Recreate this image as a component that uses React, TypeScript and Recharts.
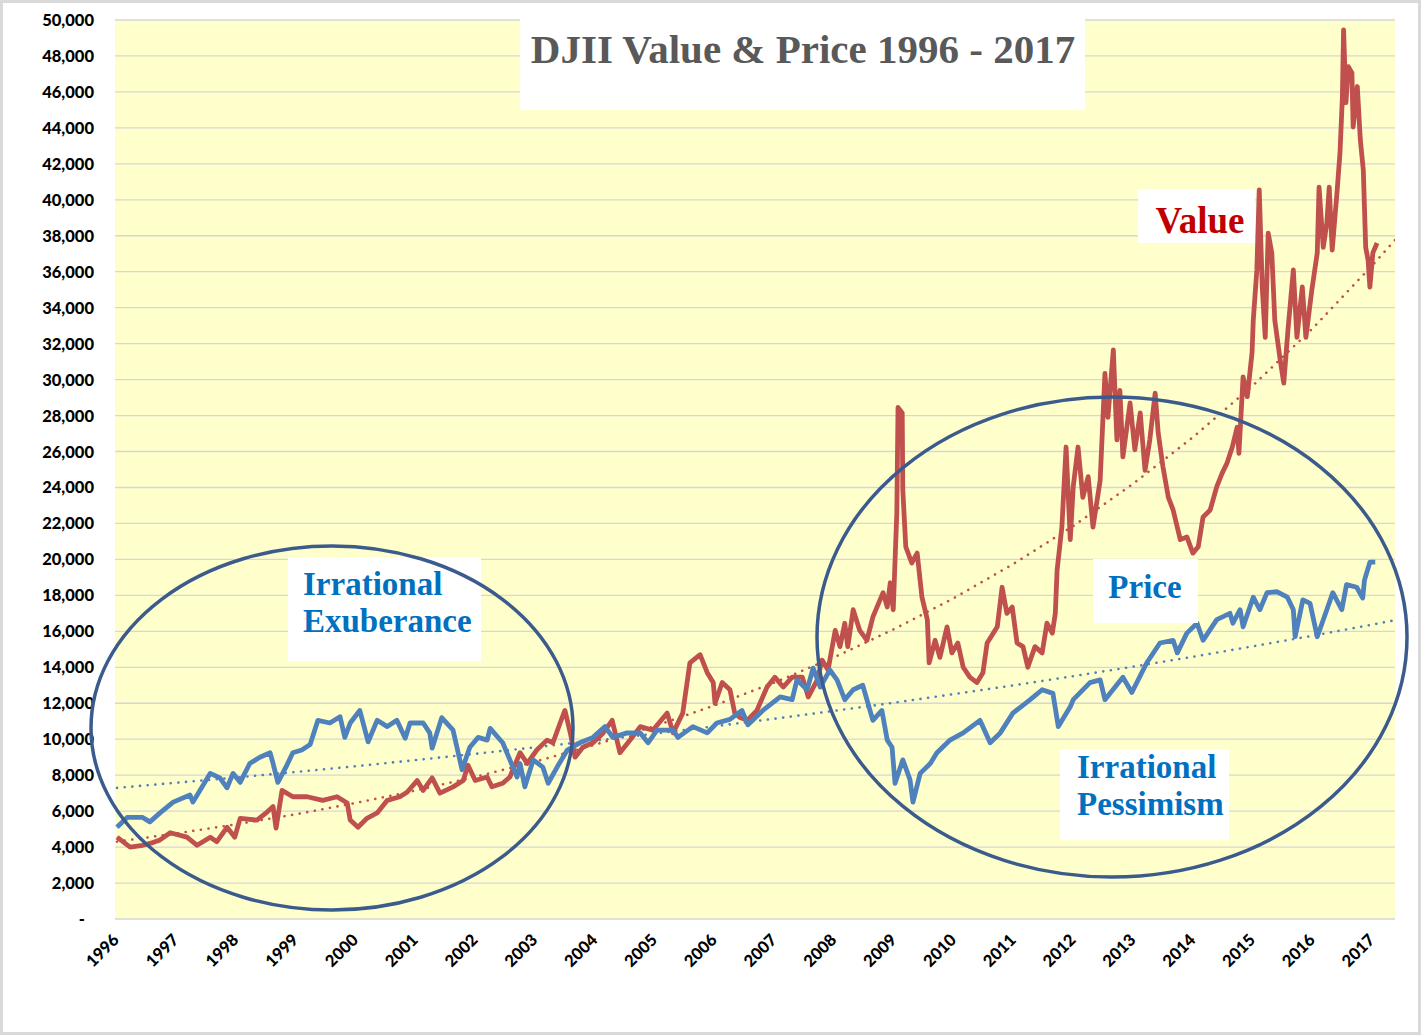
import React from "react";
import { LineChart, Line, XAxis, YAxis, CartesianGrid } from "recharts";

// ---- Data ----
const priceYears = [
  1996.0, 1996.17, 1996.43, 1996.55, 1996.72, 1996.94, 1997.22, 1997.27, 1997.56, 1997.72,
  1997.84, 1997.94, 1998.06, 1998.22, 1998.39, 1998.56, 1998.61, 1998.69, 1998.84, 1998.94,
  1999.09, 1999.23, 1999.36, 1999.56, 1999.73, 1999.81, 1999.9, 2000.06, 2000.2, 2000.35,
  2000.52, 2000.68, 2000.82, 2000.9, 2001.12, 2001.23, 2001.27, 2001.43, 2001.62, 2001.77,
  2001.9, 2002.04, 2002.19, 2002.24, 2002.45, 2002.57, 2002.69, 2002.74, 2002.82, 2002.96,
  2003.12, 2003.21, 2003.36, 2003.53, 2003.74, 2003.96, 2004.16, 2004.29, 2004.53, 2004.75,
  2004.88, 2005.03, 2005.3, 2005.38, 2005.63, 2005.87, 2006.03, 2006.25, 2006.45, 2006.55,
  2006.8, 2007.09, 2007.29, 2007.37, 2007.54, 2007.64, 2007.76, 2007.92, 2008.04, 2008.17,
  2008.31, 2008.47, 2008.64, 2008.79, 2008.88, 2008.96, 2009.01, 2009.14, 2009.26, 2009.31,
  2009.43, 2009.6, 2009.71, 2009.93, 2010.15, 2010.43, 2010.6, 2010.77, 2010.98, 2011.27,
  2011.47, 2011.65, 2011.74, 2011.94, 2011.99, 2012.27, 2012.44, 2012.52, 2012.82, 2012.97,
  2013.22, 2013.44, 2013.66, 2013.73, 2013.89, 2014.06, 2014.16, 2014.39, 2014.61, 2014.66,
  2014.78, 2014.83, 2015.0, 2015.11, 2015.23, 2015.4, 2015.57, 2015.67, 2015.7, 2015.83,
  2015.95, 2016.07, 2016.23, 2016.33, 2016.48, 2016.56, 2016.73, 2016.83, 2016.86, 2016.95,
  2017.04,
];
const priceValues = [
  5100, 5650, 5650, 5400, 5900, 6500, 6900, 6500, 8100, 7850,
  7300, 8100, 7600, 8650, 9000, 9250, 8650, 7600, 8550, 9250,
  9400, 9700, 11050, 10900, 11250, 10100, 10900, 11600, 9850, 11050,
  10700, 11050, 10050, 10900, 10900, 10350, 9500, 11200, 10500, 8300,
  9550, 10100, 9950, 10600, 9800, 8850, 7900, 8650, 7350, 8850,
  8450, 7550, 8450, 9400, 9800, 10100, 10700, 10100, 10350, 10350,
  9800, 10500, 10500, 10100, 10700, 10350, 10900, 11100, 11600, 10800,
  11600, 12350, 12200, 13300, 12750, 13950, 12900, 13850, 13300, 12200,
  12750, 13000, 11050, 11600, 9950, 9550, 7550, 8850, 7750, 6500,
  8100, 8650, 9250, 9950, 10350, 11050, 9800, 10350, 11450, 12200,
  12750, 12550, 10700, 11800, 12200, 13150, 13300, 12200, 13450, 12600,
  14250, 15350, 15500, 14800, 15900, 16450, 15500, 16650, 17000, 16450,
  17200, 16250, 17900, 17200, 18150, 18200, 17900, 17200, 15700, 17750,
  17550, 15700, 17200, 18150, 17200, 18600, 18450, 17850, 18850, 19850,
  19850,
];

const valueYears = [
  1996.0, 1996.22, 1996.43, 1996.6, 1996.72, 1996.89, 1997.17, 1997.34, 1997.56, 1997.67,
  1997.84, 1997.97, 1998.06, 1998.34, 1998.51, 1998.61, 1998.66, 1998.76, 1998.94, 1999.18,
  1999.44, 1999.68, 1999.85, 1999.9, 2000.03, 2000.18, 2000.35, 2000.52, 2000.73, 2000.85,
  2001.02, 2001.12, 2001.27, 2001.4, 2001.62, 2001.79, 2001.87, 2001.99, 2002.19, 2002.27,
  2002.45, 2002.57, 2002.74, 2002.86, 2003.02, 2003.19, 2003.29, 2003.41, 2003.49, 2003.58,
  2003.66, 2003.79, 2003.96, 2004.13, 2004.28, 2004.41, 2004.58, 2004.75, 2004.96, 2005.2,
  2005.3, 2005.46, 2005.58, 2005.75, 2005.87, 2005.97, 2006.0, 2006.12, 2006.25, 2006.33,
  2006.42, 2006.54, 2006.7, 2006.87, 2007.0, 2007.14, 2007.29, 2007.46, 2007.56, 2007.71,
  2007.79, 2007.89, 2008.01, 2008.09, 2008.17, 2008.22, 2008.31, 2008.42, 2008.54, 2008.64,
  2008.81, 2008.88, 2008.93, 2008.98, 2009.04, 2009.06, 2009.13, 2009.14, 2009.19, 2009.29,
  2009.38, 2009.46, 2009.55, 2009.58, 2009.68, 2009.76, 2009.88, 2009.96, 2010.06, 2010.15,
  2010.26, 2010.38, 2010.48, 2010.55, 2010.72, 2010.8, 2010.88, 2010.97, 2011.05, 2011.15,
  2011.23, 2011.35, 2011.47, 2011.55, 2011.64, 2011.69, 2011.72, 2011.8, 2011.87, 2011.94,
  2011.99, 2012.07, 2012.15, 2012.24, 2012.32, 2012.44, 2012.52, 2012.57, 2012.66, 2012.72,
  2012.77, 2012.82, 2012.94, 2013.02, 2013.11, 2013.19, 2013.27, 2013.36, 2013.41, 2013.49,
  2013.58, 2013.66, 2013.78, 2013.89, 2013.99, 2014.08, 2014.16, 2014.28, 2014.39, 2014.48,
  2014.56, 2014.65, 2014.73, 2014.76, 2014.83, 2014.9, 2014.98, 2015.0, 2015.06, 2015.1,
  2015.15, 2015.2, 2015.25, 2015.31, 2015.36, 2015.45, 2015.51, 2015.58, 2015.67, 2015.73,
  2015.82, 2015.88, 2015.98, 2016.07, 2016.1, 2016.17, 2016.23, 2016.27, 2016.32, 2016.4,
  2016.45, 2016.49, 2016.51, 2016.55, 2016.59, 2016.65, 2016.67, 2016.74, 2016.79, 2016.84,
  2016.88, 2016.92, 2016.95, 2017.0, 2017.07,
];
const valueValues = [
  4550, 4000, 4100, 4250, 4400, 4800, 4550, 4100, 4550, 4300,
  5100, 4550, 5600, 5500, 5950, 6250, 5050, 7150, 6800, 6800,
  6600, 6800, 6450, 5500, 5100, 5600, 5900, 6600, 6800, 7050,
  7700, 7150, 7850, 7000, 7350, 7700, 8550, 7700, 7900, 7350,
  7550, 7900, 9250, 8650, 9400, 9950, 9800, 10900, 11600, 10350,
  9000, 9550, 9800, 10350, 11050, 9250, 9950, 10700, 10500, 11450,
  10350, 11450, 14250, 14700, 13700, 13150, 12000, 13150, 12750, 11450,
  11200, 11050, 11600, 12900, 13450, 12900, 13450, 13450, 12350, 13300,
  14400, 13850, 16050, 15150, 16450, 15150, 17200, 16050, 15500, 16800,
  18150, 17350, 18700, 17200, 22600, 28450, 28150, 23850, 20700, 19800,
  20350, 17900, 16650, 14250, 15500, 14550, 16250, 14800, 15350, 14000,
  13450, 13150, 13700, 15350, 16250, 18450, 17000, 17350, 15350, 15150,
  14000, 15150, 14800, 16450, 15900, 17000, 19400, 21800, 26250, 21100,
  24050, 26250, 23450, 24600, 21800, 24400, 30350, 27900, 31650, 26650,
  29400, 25700, 28700, 26100, 28150, 24950, 26650, 29250, 27050, 25150,
  23450, 22750, 21100, 21250, 20350, 20700, 22350, 22750, 24050, 24800,
  25350, 26250, 27350, 25900, 30150, 29050, 31500, 33300, 36100, 40550,
  35150, 32350, 38150, 37050, 33300, 31100, 29800, 32750, 36100, 32350,
  35150, 32350, 35000, 37050, 40700, 37350, 38700, 40700, 37200, 40400,
  42600, 45700, 49450, 45400, 47400, 47050, 44050, 46300, 43350, 41650,
  37350, 36650, 35150, 37050, 37600,
];

// dotted trend lines, read year by year
const trendYears = [
  1996, 1997, 1998, 1999, 2000, 2001, 2002, 2003, 2004, 2005, 2006, 2007,
  2008, 2009, 2010, 2011, 2012, 2013, 2014, 2015, 2016, 2017, 2017.37,
];
const priceTrend = [
  7290, 7580, 7870, 8180, 8500, 8840, 9190, 9550, 9920, 10310, 10720, 11140,
  11580, 12030, 12510, 13000, 13510, 14040, 14590, 15170, 15760, 16380, 16620,
];
const valueTrend = [
  4300, 4760, 5270, 5830, 6460, 7150, 7910, 8760, 9700, 10740, 11890, 13160,
  14570, 16130, 17860, 19770, 21880, 24230, 26820, 29690, 32870, 36390, 37760,
];

const yearTicks = [
  1996, 1997, 1998, 1999, 2000, 2001, 2002, 2003, 2004, 2005, 2006, 2007,
  2008, 2009, 2010, 2011, 2012, 2013, 2014, 2015, 2016, 2017,
];
const valueTicks = [
  0, 2000, 4000, 6000, 8000, 10000, 12000, 14000, 16000, 18000, 20000, 22000, 24000,
  26000, 28000, 30000, 32000, 34000, 36000, 38000, 40000, 42000, 44000, 46000, 48000, 50000,
];

const priceData = priceYears.map((t, i) => ({ t, v: priceValues[i] }));
const valueData = valueYears.map((t, i) => ({ t, v: valueValues[i] }));
const priceTrendData = trendYears.map((t, i) => ({ t, v: priceTrend[i] }));
const valueTrendData = trendYears.map((t, i) => ({ t, v: valueTrend[i] }));

const BLUE = "#4F81BD";
const RED = "#C0504D";
const TICK_FONT = "Lato, 'Open Sans', sans-serif";
const SERIF = "'Liberation Serif', 'Times New Roman', serif";

const YTick = (props: any) => {
  const { x, y, payload } = props;
  const v = payload.value as number;
  const label = v === 0 ? "-" : v.toLocaleString("en-US");
  return (
    <text
      x={v === 0 ? x - 9 : x}
      y={y}
      dy={6}
      textAnchor="end"
      fontFamily={TICK_FONT}
      fontWeight={900}
      fontSize={16.5}
      fill="#000"
    >
      {label}
    </text>
  );
};

const XTick = (props: any) => {
  const { x, y, payload } = props;
  return (
    <text
      transform={`translate(${x + 3},${y + 22}) rotate(-45)`}
      textAnchor="end"
      fontFamily={TICK_FONT}
      fontWeight={900}
      fontSize={16.5}
      fill="#000"
    >
      {payload.value}
    </text>
  );
};

const ANN_STROKE = "#3B5B8C";

export default function App() {
  return (
    <div style={{ position: "absolute", left: 0, top: 0, width: 1425, height: 1036, background: "#fff" }}>
      <LineChart
        width={1425}
        height={1036}
        margin={{ top: 20, right: 30, left: 0, bottom: 0 }}
      >
        <CartesianGrid
          horizontal={true}
          vertical={false}
          stroke="#D6D6D6"
          strokeWidth={1.3}
          fill="#FFFFCC"
          fillOpacity={1}
        />
        <XAxis
          type="number"
          dataKey="t"
          domain={[1995.967, 2017.37]}
          allowDataOverflow
          ticks={yearTicks}
          interval={0}
          tick={<XTick />}
          tickLine={false}
          axisLine={false}
          tickSize={0}
          tickMargin={0}
          height={117}
        />
        <YAxis
          type="number"
          domain={[0, 50000]}
          ticks={valueTicks}
          interval={0}
          tick={<YTick />}
          tickLine={false}
          axisLine={false}
          tickSize={0}
          tickMargin={21}
          width={115}
        />
        <Line
          data={priceTrendData}
          dataKey="v"
          stroke={BLUE}
          strokeWidth={2.6}
          strokeDasharray="0.1 7.6"
          strokeLinecap="round"
          dot={false}
          isAnimationActive={false}
        />
        <Line
          data={valueTrendData}
          dataKey="v"
          stroke={RED}
          strokeWidth={2.6}
          strokeDasharray="0.1 7.6"
          strokeLinecap="round"
          dot={false}
          isAnimationActive={false}
        />
        <Line
          data={valueData}
          dataKey="v"
          stroke={RED}
          strokeWidth={4.8}
          strokeLinejoin="round"
          dot={false}
          isAnimationActive={false}
        />
        <Line
          data={priceData}
          dataKey="v"
          stroke={BLUE}
          strokeWidth={4.8}
          strokeLinejoin="round"
          dot={false}
          isAnimationActive={false}
        />
      </LineChart>

      <svg
        width={1425}
        height={1036}
        style={{ position: "absolute", left: 0, top: 0, pointerEvents: "none" }}
      >
        <rect x={520} y={15} width={565} height={95} fill="#fff" />
        <text x={803} y={63} textAnchor="middle" fontFamily={SERIF} fontWeight={700} fontSize={41} fill="#595959">
          DJII Value &amp; Price 1996 - 2017
        </text>

        <rect x={1138} y={189} width={117} height={54} fill="#fff" />
        <text x={1200} y={233} textAnchor="middle" fontFamily={SERIF} fontWeight={700} fontSize={37} fill="#C00000">
          Value
        </text>

        <rect x={1093} y={559} width={105} height={64} fill="#fff" />
        <text x={1145} y={598} textAnchor="middle" fontFamily={SERIF} fontWeight={700} fontSize={33} fill="#0070C0">
          Price
        </text>

        <rect x={288} y={557} width={193} height={104} fill="#fff" />
        <text x={303} y={595} fontFamily={SERIF} fontWeight={700} fontSize={33} fill="#0070C0">
          Irrational
        </text>
        <text x={303} y={632} fontFamily={SERIF} fontWeight={700} fontSize={33} fill="#0070C0">
          Exuberance
        </text>

        <rect x={1060} y={749} width={169} height={91} fill="#fff" />
        <text x={1077} y={778} fontFamily={SERIF} fontWeight={700} fontSize={33} fill="#0070C0">
          Irrational
        </text>
        <text x={1077} y={815} fontFamily={SERIF} fontWeight={700} fontSize={33} fill="#0070C0">
          Pessimism
        </text>

        <ellipse cx={332} cy={728} rx={241} ry={182} fill="none" stroke={ANN_STROKE} strokeWidth={3.5} />
        <ellipse cx={1112} cy={637} rx={295} ry={240} fill="none" stroke={ANN_STROKE} strokeWidth={3.5} />
      </svg>

      <div
        style={{
          position: "absolute",
          left: 0,
          top: 0,
          width: 1421,
          height: 1035,
          boxSizing: "border-box",
          border: "3px solid #D9D9D9",
          pointerEvents: "none",
        }}
      />
    </div>
  );
}
